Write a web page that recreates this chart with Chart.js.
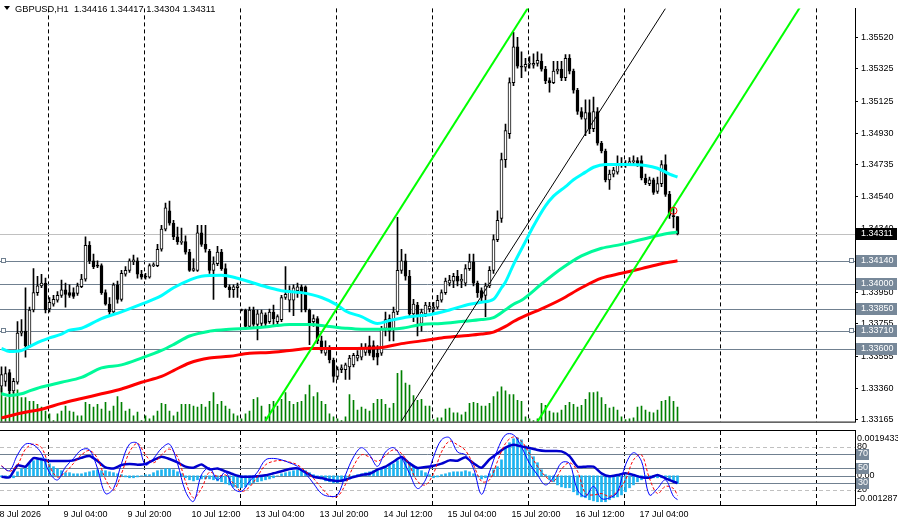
<!DOCTYPE html>
<html>
<head>
<meta charset="utf-8">
<script src="https://cdn.jsdelivr.net/npm/chart.js@4.4.1/dist/chart.umd.min.js"></script>
<style>
  body { margin: 0; background: #fff; width: 898px; height: 523px; overflow: hidden; position: relative; }
  canvas { position: absolute; left: 0; }
  #main { top: 0; }
  #osc { top: 430px; }
</style>
</head>
<body>
<canvas id="main" width="898" height="430"></canvas>
<canvas id="osc" width="898" height="93"></canvas>
<script>
// GBPUSD H1, one candle per hour, 8 Jul 12:00 .. 17 Jul 05:00
var open = [1.33372,1.33402,1.33456,1.33343,1.33396,1.33699,1.33711,1.33622,1.33841,1.33948,
  1.33990,1.34007,1.33847,1.33877,1.33901,1.33931,1.33966,1.33948,1.33948,1.33943,
  1.33984,1.34031,1.34239,1.34144,1.34114,1.34114,1.33948,1.33877,1.33829,1.33996,
  1.33907,1.34061,1.34085,1.34138,1.34144,1.34061,1.34049,1.34043,1.34114,1.34114,
  1.34215,1.34339,1.34452,1.34375,1.34292,1.34257,1.34262,1.34197,1.34085,1.34085,
  1.34316,1.34245,1.34203,1.34085,1.34126,1.34197,1.34096,1.33984,1.33966,1.33978,
  1.33841,1.33841,1.33740,1.33841,1.33752,1.33758,1.33812,1.33770,1.33829,1.33770,
  1.33782,1.33918,1.33901,1.33901,1.33960,1.33984,1.33984,1.33841,1.33770,1.33788,
  1.33651,1.33575,1.33604,1.33533,1.33432,1.33474,1.33474,1.33491,1.33503,1.33545,
  1.33550,1.33580,1.33622,1.33622,1.33575,1.33575,1.33728,1.33788,1.33723,1.33829,
  1.34085,1.34144,1.34049,1.33817,1.33871,1.33758,1.33817,1.33847,1.33847,1.33859,
  1.33901,1.33948,1.34007,1.34019,1.34049,1.34019,1.34007,1.34096,1.34138,1.34007,
  1.33960,1.33931,1.33990,1.34085,1.34274,1.34405,1.34767,1.34927,1.35241,1.35461,
  1.35342,1.35336,1.35354,1.35348,1.35360,1.35372,1.35324,1.35253,1.35241,1.35312,
  1.35324,1.35271,1.35390,1.35312,1.35194,1.35063,1.35016,1.35057,1.34957,1.35063,
  1.34868,1.34820,1.34642,1.34678,1.34690,1.34737,1.34737,1.34737,1.34755,1.34761,
  1.34761,1.34654,1.34619,1.34642,1.34571,1.34619,1.34737,1.34553,1.34423,1.34416];
var high = [1.33491,1.33491,1.33474,1.33420,1.33770,1.33782,1.33978,1.33859,1.34096,1.34049,
  1.34061,1.34037,1.33918,1.33931,1.33954,1.34025,1.34007,1.33996,1.33978,1.34007,
  1.34061,1.34292,1.34262,1.34185,1.34144,1.34126,1.33966,1.33918,1.34007,1.34019,
  1.34085,1.34108,1.34156,1.34179,1.34162,1.34085,1.34067,1.34126,1.34132,1.34245,
  1.34363,1.34500,1.34512,1.34393,1.34351,1.34345,1.34298,1.34215,1.34156,1.34363,
  1.34363,1.34363,1.34215,1.34168,1.34233,1.34215,1.34126,1.33996,1.33996,1.34007,
  1.33847,1.33847,1.33859,1.33859,1.33841,1.33841,1.33823,1.33847,1.33871,1.33812,
  1.33931,1.34108,1.33990,1.33996,1.34007,1.33996,1.33990,1.33847,1.33812,1.33800,
  1.33681,1.33651,1.33622,1.33545,1.33491,1.33503,1.33515,1.33562,1.33575,1.33592,
  1.33634,1.33634,1.33681,1.33651,1.33622,1.33740,1.33829,1.33812,1.33859,1.34411,
  1.34215,1.34185,1.34085,1.33907,1.33889,1.33847,1.33889,1.33889,1.33889,1.33931,
  1.33966,1.34037,1.34055,1.34067,1.34085,1.34061,1.34120,1.34185,1.34185,1.34019,
  1.33978,1.34007,1.34108,1.34304,1.34452,1.34808,1.34986,1.35271,1.35550,1.35520,
  1.35431,1.35390,1.35401,1.35419,1.35431,1.35419,1.35342,1.35271,1.35372,1.35372,
  1.35372,1.35413,1.35413,1.35324,1.35206,1.35087,1.35135,1.35135,1.35152,1.35087,
  1.34880,1.34832,1.34702,1.34719,1.34791,1.34779,1.34761,1.34779,1.34791,1.34779,
  1.34791,1.34678,1.34660,1.34654,1.34660,1.34761,1.34796,1.34571,1.34470,1.34417];
var low = [1.33337,1.33372,1.33325,1.33331,1.33384,1.33681,1.33550,1.33610,1.33829,1.33931,
  1.33978,1.33823,1.33829,1.33865,1.33889,1.33918,1.33859,1.33918,1.33913,1.33931,
  1.33978,1.34019,1.34126,1.34096,1.34102,1.33937,1.33871,1.33812,1.33823,1.33883,
  1.33895,1.34049,1.34073,1.34120,1.34037,1.34031,1.34031,1.34037,1.34108,1.34108,
  1.34203,1.34328,1.34363,1.34274,1.34245,1.34245,1.34185,1.34079,1.34079,1.34079,
  1.34233,1.34197,1.34067,1.33907,1.34114,1.34085,1.33978,1.33918,1.33918,1.33918,
  1.33835,1.33723,1.33728,1.33740,1.33657,1.33740,1.33740,1.33758,1.33740,1.33740,
  1.33770,1.33907,1.33829,1.33806,1.33918,1.33829,1.33829,1.33628,1.33740,1.33634,
  1.33575,1.33562,1.33515,1.33396,1.33414,1.33456,1.33414,1.33414,1.33491,1.33527,
  1.33533,1.33562,1.33562,1.33533,1.33503,1.33562,1.33681,1.33651,1.33651,1.33812,
  1.34067,1.34025,1.33800,1.33770,1.33681,1.33711,1.33800,1.33829,1.33829,1.33847,
  1.33889,1.33937,1.33990,1.33978,1.33990,1.33978,1.33990,1.34085,1.33990,1.33918,
  1.33889,1.33800,1.33978,1.34067,1.34262,1.34381,1.34719,1.34897,1.35223,1.35330,
  1.35271,1.35312,1.35330,1.35330,1.35342,1.35312,1.35235,1.35182,1.35235,1.35295,
  1.35253,1.35253,1.35295,1.35176,1.35045,1.35016,1.34915,1.34927,1.34939,1.34856,
  1.34808,1.34630,1.34583,1.34660,1.34678,1.34719,1.34719,1.34731,1.34737,1.34725,
  1.34642,1.34613,1.34607,1.34553,1.34559,1.34601,1.34541,1.34405,1.34346,1.34304];
var close = [1.33444,1.33450,1.33343,1.33402,1.33699,1.33711,1.33622,1.33841,1.33948,1.33990,
  1.34007,1.33841,1.33889,1.33907,1.33931,1.33966,1.33937,1.33931,1.33925,1.33990,
  1.34031,1.34239,1.34144,1.34108,1.34111,1.33948,1.33877,1.33829,1.33996,1.33907,
  1.34067,1.34085,1.34144,1.34150,1.34061,1.34043,1.34043,1.34114,1.34120,1.34215,
  1.34339,1.34470,1.34375,1.34292,1.34262,1.34262,1.34197,1.34085,1.34096,1.34316,
  1.34245,1.34215,1.34085,1.34126,1.34197,1.34096,1.33984,1.33966,1.33984,1.33990,
  1.33838,1.33740,1.33841,1.33752,1.33817,1.33823,1.33758,1.33829,1.33788,1.33800,
  1.33918,1.33937,1.33960,1.33978,1.33984,1.33948,1.33841,1.33758,1.33788,1.33651,
  1.33592,1.33604,1.33533,1.33432,1.33474,1.33485,1.33503,1.33545,1.33562,1.33562,
  1.33604,1.33604,1.33575,1.33550,1.33550,1.33723,1.33782,1.33711,1.33829,1.34085,
  1.34144,1.34049,1.33817,1.33877,1.33800,1.33829,1.33871,1.33865,1.33859,1.33901,
  1.33948,1.34019,1.34025,1.34049,1.34019,1.34031,1.34096,1.34138,1.34007,1.33948,
  1.33918,1.33990,1.34085,1.34274,1.34393,1.34767,1.34945,1.35241,1.35461,1.35342,
  1.35336,1.35354,1.35357,1.35360,1.35378,1.35324,1.35253,1.35241,1.35312,1.35324,
  1.35271,1.35390,1.35312,1.35194,1.35063,1.35028,1.35057,1.34957,1.35063,1.34868,
  1.34820,1.34642,1.34678,1.34702,1.34737,1.34734,1.34740,1.34755,1.34761,1.34743,
  1.34654,1.34625,1.34642,1.34565,1.34619,1.34737,1.34553,1.34423,1.34416,1.34311];
var volume = [1400,1000,1240,1200,1320,1000,1000,840,840,720,
  600,440,320,40,320,440,640,440,400,240,
  240,800,720,600,720,520,800,440,640,1040,
  800,440,520,240,400,40,240,120,240,440,
  760,720,440,240,400,720,720,720,640,600,
  720,600,840,1200,720,840,640,520,320,240,
  120,320,440,920,1000,640,200,720,840,640,
  920,1200,840,720,800,840,1120,1520,1040,1200,
  840,720,320,200,120,40,200,1120,880,480,
  600,520,440,760,920,920,720,560,760,2000,
  2120,1600,1520,1080,880,920,640,640,80,160,
  160,520,560,360,360,280,400,760,800,760,
  640,640,760,1040,1240,1440,1280,1120,1120,880,
  840,200,120,40,120,760,680,440,360,360,
  480,680,800,720,600,680,920,1200,1200,1240,
  1000,720,560,600,480,200,80,120,160,600,
  640,480,400,360,480,840,880,1040,840,600];

// moving averages read at sample bars
var maFastBars = [0,2,5,7,10,12,15,17,20,25,30,35,40,43,47,50,55,59,63,67,70,75,80,84,86,90,94,97,102,107,112,117,120,123,125,126,128,131,133,136,138,141,143,146,148,151,156,161,164,167,169];
var maFast = [1.33604,1.33586,1.33592,1.33616,1.33651,1.33669,1.33693,1.33717,1.33729,1.33788,1.33830,1.33877,1.33930,1.33978,1.34025,1.34049,1.34055,1.34037,1.34007,1.33978,1.33960,1.33948,1.33918,1.33871,1.33835,1.33800,1.33758,1.33776,1.33800,1.33812,1.33841,1.33877,1.33889,1.33907,1.33978,1.34014,1.34121,1.34263,1.34358,1.34482,1.34542,1.34601,1.34643,1.34690,1.34720,1.34737,1.34737,1.34731,1.34714,1.34678,1.34660];
var maMidBars = [0,2,5,7,10,15,20,25,30,35,40,43,47,52,57,62,67,72,77,82,86,90,95,100,105,110,115,120,123,126,128,130,135,140,145,150,155,160,165,169];
var maMid = [1.33325,1.33314,1.33325,1.33343,1.33367,1.33396,1.33426,1.33485,1.33503,1.33545,1.33592,1.33628,1.33681,1.33711,1.33723,1.33729,1.33740,1.33752,1.33752,1.33740,1.33729,1.33723,1.33723,1.33729,1.33752,1.33758,1.33770,1.33782,1.33794,1.33842,1.33877,1.33901,1.34001,1.34096,1.34174,1.34221,1.34245,1.34275,1.34304,1.34322];
var maSlowBars = [0,5,10,15,20,25,30,35,40,43,47,52,57,62,67,72,77,82,86,95,100,105,110,115,120,123,126,128,131,135,140,145,150,155,160,165,169];
var maSlow = [1.33177,1.33207,1.33230,1.33266,1.33296,1.33325,1.33355,1.33396,1.33432,1.33468,1.33515,1.33545,1.33556,1.33575,1.33580,1.33592,1.33604,1.33604,1.33604,1.33610,1.33634,1.33651,1.33669,1.33681,1.33693,1.33705,1.33740,1.33770,1.33806,1.33848,1.33907,1.33978,1.34037,1.34067,1.34096,1.34126,1.34144];

// drawn objects: channel (bar, price anchors) and horizontal levels
var channelUpper = [[66, 1.33160], [132, 1.35716]];
var channelMiddle = [[99.75, 1.33148], [166, 1.35698]];
var channelLower = [[134, 1.33154], [199.75, 1.35710]];
var levels = [1.34140, 1.34000, 1.33850, 1.33710, 1.33600];
var markedLevels = [1.34140, 1.33710];
var alertPoint = [168, 1.34452];

var priceTicks = [1.33165,1.33360,1.33555,1.33755,1.33950,1.34140,1.34340,1.34540,1.34735,1.34930,1.35125,1.35325,1.35520];
var timeBars = [0,16,32,48,64,80,96,112,128,144,160];
var timeLabels = ['8 Jul 2026','9 Jul 04:00','9 Jul 20:00','10 Jul 12:00','13 Jul 04:00','13 Jul 20:00','14 Jul 12:00','15 Jul 04:00','15 Jul 20:00','16 Jul 12:00','17 Jul 04:00'];
var gridBars = [11.6,35.6,59.6,83.6,107.6,131.6,155.6,179.6,203.6];

// OsMA(12,26,9) per bar
var osma = [-0.00005,-0.00009,-0.00009,-0.00009,0.00018,0.00032,0.00041,0.00054,0.00068,0.00077,
  0.00081,0.00077,0.00054,0.00041,0.00032,0.00023,0.00014,0.00014,0.00009,0.00009,
  0.00009,0.00014,0.00018,0.00023,0.00027,0.00023,0.00023,0.00018,0.00014,0.00009,
  0.00005,-0.00005,-0.00009,-0.00009,-0.00005,0,0.00005,0.00005,0.00014,0.00023,
  0.00027,0.00032,0.00032,0.00027,0.00018,0.00009,-0.00009,-0.00018,-0.00023,-0.00018,
  -0.00014,-0.00014,-0.00014,-0.00018,-0.00023,-0.00027,-0.00036,-0.00041,-0.0005,-0.00054,
  -0.00054,-0.0005,-0.00041,-0.00032,-0.00027,-0.00023,-0.00018,-0.00014,-0.00009,0,
  0.00009,0.00014,0.00018,0.00023,0.00027,0.00027,0.00023,0.00014,0.00005,-0.00005,
  -0.00014,-0.00023,-0.00027,-0.00032,-0.00032,-0.00027,-0.00023,-0.00014,-0.00005,0.00005,
  0.00009,0.00014,0.00018,0.00023,0.00023,0.00032,0.00041,0.0005,0.00054,0.00068,
  0.00077,0.00068,0.00059,0.00045,0.00032,0.00023,0.00014,0.00005,-0.00009,-0.00005,
  0.00005,0.00009,0.00014,0.00018,0.00018,0.00018,0.00023,0.00018,0.00009,-0.00005,
  -0.00014,-0.00009,0.00009,0.00027,0.00041,0.00072,0.00126,0.00149,0.00167,0.00171,
  0.00162,0.00135,0.00117,0.00086,0.00059,0.00027,0.00005,-0.00018,-0.00027,-0.00041,
  -0.0005,-0.00054,-0.00054,-0.00072,-0.00086,-0.00095,-0.00099,-0.00108,-0.00113,-0.00117,
  -0.00117,-0.00117,-0.00108,-0.00099,-0.00095,-0.00086,-0.00072,-0.00054,-0.00041,-0.00027,
  -0.00018,-0.00009,-0.00009,-0.00009,-0.00009,-0.00009,-0.00014,-0.00023,-0.00027,-0.00035];
var osmaTop = 0.0019433, osmaBottom = -0.001287;

// Stoch(5,3,3) and RSI(14), read every second bar
var oscBars = [0,2,4,6,8,10,12,14,16,18,20,22,24,26,28,30,32,34,36,38,40,42,44,46,48,50,52,54,56,58,
  60,62,64,66,68,70,72,74,76,78,80,82,84,86,88,90,92,94,96,98,100,102,104,106,108,110,112,114,116,118,
  120,122,124,126,128,130,132,134,136,138,140,142,144,146,148,150,152,154,156,158,160,162,164,166,168,169];
var stochMain = [53,47,69,84,83,71,44,34,52,64,76,76,50,15,22,57,84,85,55,64,78,84,57,18,4,41,51,34,45,22,
  18,32,45,62,64,62,58,53,43,29,15,11,13,41,66,79,69,53,73,79,65,43,22,34,66,90,93,73,69,50,
  14,45,76,97,97,80,57,41,27,38,58,57,20,11,25,8,9,17,55,72,60,13,22,34,11,6.51];
var stochSignal = [54,46,55,77,84,79,53,38,45,57,69,75,64,35,20,43,73,85,69,58,69,77,66,32,9,22,45,39,41,29,
  18,24,39,55,60,61,59,55,46,36,23,12,11,28,53,69,66,60,68,76,71,54,32,27,43,73,88,83,75,55,
  32,34,60,85,94,88,71,53,39,32,49,58,46,15,13,15,11,18,34,62,69,36,15,25,22,12.15];
var rsi = [38.5,37.6,54.3,52.5,64.5,62.7,60.4,60.4,60.4,61.3,65,67.3,60.4,51.5,50.1,54.8,56.2,55.3,56.2,61.8,
  66.4,63.2,58.5,52.5,51,55.7,48.7,50.1,46,41.8,38.5,38.5,39,40.4,43.2,46,49.2,50.1,44.6,38.5,
  36.6,33.9,32.5,34.3,38,40.8,42.7,48.3,52.5,59.4,65.9,57.1,50.6,52,53.9,56.7,61.3,60.8,65.5,57.1,
  51,62.7,71.1,79,83.2,80.8,78.5,75.7,74.3,74.3,73.9,67.3,52.5,52.5,52.5,43.2,39,40.8,43.2,40.8,
  37.6,37.1,40.8,36.2,31.5,29.69];

var FONT = '"Liberation Sans", Arial, sans-serif';
var last = close.length - 1;

function pts(bars, vals) { return bars.map(function (b, k) { return {x: b, y: vals[k]}; }); }
function seg(p) { return p.map(function (q) { return {x: q[0], y: q[1]}; }); }

var wicks = close.map(function (c, i) { return {x: i, y: [low[i], high[i]]}; });
var bodies = close.map(function (c, i) { return {x: i, y: [open[i], c]}; });
var bodyFill = close.map(function (c, i) { return c > open[i] ? '#ffffff' : '#000000'; });
var vols = volume.map(function (v, i) { return {x: i, y: v}; });

var xRange = {type: 'linear', min: -0.375, max: 213.375, offset: false, bounds: 'data'};

var vGrid = {
  id: 'vGrid',
  beforeDatasetsDraw: function (chart) {
    var ctx = chart.ctx, a = chart.chartArea, x = chart.scales.x;
    ctx.save();
    ctx.strokeStyle = '#000'; ctx.lineWidth = 1; ctx.setLineDash([4, 3]);
    gridBars.forEach(function (b) {
      var px = Math.round(x.getPixelForValue(b)) + 0.5;
      ctx.beginPath(); ctx.moveTo(px, a.top); ctx.lineTo(px, a.bottom); ctx.stroke();
    });
    ctx.restore();
  }
};

var mainDeco = {
  id: 'mainDeco',
  beforeDatasetsDraw: function (chart) {
    var ctx = chart.ctx, a = chart.chartArea, y = chart.scales.y;
    ctx.save();
    ctx.lineWidth = 1;
    ctx.strokeStyle = '#c0c0c0';
    var py = Math.round(y.getPixelForValue(close[last])) + 0.5;
    ctx.beginPath(); ctx.moveTo(a.left, py); ctx.lineTo(a.right, py); ctx.stroke();
    ctx.strokeStyle = '#708090';
    levels.forEach(function (v) {
      var p = Math.round(y.getPixelForValue(v)) + 0.5;
      ctx.beginPath(); ctx.moveTo(a.left, p); ctx.lineTo(a.right, p); ctx.stroke();
    });
    ctx.restore();
  },
  afterDraw: function (chart) {
    var ctx = chart.ctx, a = chart.chartArea, y = chart.scales.y;
    ctx.save();
    ctx.font = '9px ' + FONT;
    ctx.textBaseline = 'middle';
    function box(v, bg) {
      var p = Math.round(y.getPixelForValue(v));
      ctx.fillStyle = bg; ctx.fillRect(856, p - 6, 41, 12);
      ctx.fillStyle = '#fff'; ctx.fillText(v.toFixed(5), 861, p);
    }
    levels.forEach(function (v) { box(v, '#778899'); });
    box(close[last], '#000');
    ctx.strokeStyle = '#708090'; ctx.fillStyle = '#fff';
    markedLevels.forEach(function (v) {
      var p = Math.round(y.getPixelForValue(v));
      [1, 849].forEach(function (sx) {
        ctx.fillRect(sx, p - 2, 4, 4); ctx.strokeRect(sx + 0.5, p - 2.5, 4, 4);
      });
    });
    // bottom border of the price panel
    ctx.fillStyle = '#000';
    ctx.fillRect(0, a.bottom, a.right + 1, 1);
    // header
    ctx.beginPath(); ctx.moveTo(4, 6); ctx.lineTo(10, 6); ctx.lineTo(7, 10); ctx.closePath(); ctx.fill();
    ctx.font = '9.3px ' + FONT; ctx.textBaseline = 'alphabetic';
    var ohlc = [open[last], high[last], low[last], close[last]].map(function (v) { return v.toFixed(5); }).join(' ');
    ctx.fillText('GBPUSD,H1  ' + ohlc, 15, 12);
    ctx.restore();
  }
};

new Chart(document.getElementById('main'), {
  type: 'bar',
  data: {
    datasets: [
      {type: 'line', data: seg(channelUpper), borderColor: '#00ff00', borderWidth: 2, pointRadius: 0, order: 1},
      {type: 'line', data: seg(channelLower), borderColor: '#00ff00', borderWidth: 2, pointRadius: 0, order: 1},
      {type: 'line', data: seg(channelMiddle), borderColor: '#000', borderWidth: 1, pointRadius: 0, order: 1},
      {type: 'scatter', data: [{x: alertPoint[0], y: alertPoint[1]}], pointRadius: 3.5, borderWidth: 1,
        pointBorderColor: '#ff0000', pointBackgroundColor: 'rgba(0,0,0,0)', order: 0},
      {type: 'line', data: pts(maFastBars, maFast), borderColor: '#00ffff', borderWidth: 3, pointRadius: 0, cubicInterpolationMode: 'monotone', order: 2},
      {type: 'line', data: pts(maMidBars, maMid), borderColor: '#00fa9a', borderWidth: 3, pointRadius: 0, cubicInterpolationMode: 'monotone', order: 2},
      {type: 'line', data: pts(maSlowBars, maSlow), borderColor: '#ff0000', borderWidth: 3, pointRadius: 0, cubicInterpolationMode: 'monotone', order: 2},
      {type: 'bar', data: bodies, backgroundColor: bodyFill, borderColor: '#000', borderWidth: 1, borderSkipped: false,
        barThickness: 3, minBarLength: 1, grouped: false, order: 3},
      {type: 'bar', data: wicks, backgroundColor: '#000', borderWidth: 0, barThickness: 1, grouped: false, order: 4},
      {type: 'bar', data: vols, yAxisID: 'vol', backgroundColor: '#008000', borderWidth: 0, barThickness: 1, grouped: false, order: 9}
    ]
  },
  options: {
    responsive: false,
    animation: false,
    devicePixelRatio: 1,
    layout: {autoPadding: false, padding: {left: 0, top: 0, right: 0, bottom: 1}},
    plugins: {legend: {display: false}, tooltip: {enabled: false}},
    scales: {
      x: Object.assign({display: false}, xRange),
      y: {
        position: 'right', min: 1.33154, max: 1.35698, beginAtZero: false, bounds: 'data',
        afterFit: function (s) { s.width = 43; },
        afterBuildTicks: function (s) { s.ticks = priceTicks.map(function (v) { return {value: v}; }); },
        ticks: {autoSkip: false, padding: 3, color: '#000', font: {family: FONT, size: 9},
          callback: function (v) { return v.toFixed(5); }},
        grid: {display: true, drawOnChartArea: false, drawTicks: true, tickLength: 3, color: '#000'},
        border: {display: true, color: '#000', width: 1}
      },
      vol: {display: false, min: 0, max: 17160}
    }
  },
  plugins: [vGrid, mainDeco]
});

var oscDeco = {
  id: 'oscDeco',
  beforeDatasetsDraw: function (chart) {
    var ctx = chart.ctx, a = chart.chartArea, y = chart.scales.y, o = chart.scales.osma;
    ctx.save();
    ctx.lineWidth = 1;
    function hline(p, color, dash) {
      p = Math.round(p) + 0.5;
      ctx.strokeStyle = color; ctx.setLineDash(dash);
      ctx.beginPath(); ctx.moveTo(a.left, p); ctx.lineTo(a.right, p); ctx.stroke();
    }
    hline(y.getPixelForValue(80), '#c0c0c0', [4, 3]);
    hline(y.getPixelForValue(20), '#c0c0c0', [4, 3]);
    [70, 50, 30].forEach(function (v) { hline(y.getPixelForValue(v), '#708090', []); });
    hline(o.getPixelForValue(0), '#708090', []);
    ctx.restore();
  },
  afterDraw: function (chart) {
    var ctx = chart.ctx, a = chart.chartArea, y = chart.scales.y, o = chart.scales.osma;
    ctx.save();
    ctx.fillStyle = '#000';
    ctx.fillRect(0, 0, a.right + 1, 1);
    ctx.font = '9px ' + FONT; ctx.textBaseline = 'middle';
    ctx.fillText(String(osmaTop), 857, o.getPixelForValue(osmaTop) + 6);
    ctx.fillText('80', 857, y.getPixelForValue(80));
    ctx.fillText('0.00', 857, o.getPixelForValue(0));
    ctx.fillText('20', 857, y.getPixelForValue(20));
    ctx.fillText(String(osmaBottom), 857, o.getPixelForValue(osmaBottom) - 6);
    [70, 50, 30].forEach(function (v) {
      var p = Math.round(y.getPixelForValue(v));
      ctx.fillStyle = '#778899'; ctx.fillRect(856, p - 5, 13, 11);
      ctx.fillStyle = '#fff'; ctx.fillText(String(v), 858, p);
    });
    ctx.restore();
  }
};

new Chart(document.getElementById('osc'), {
  type: 'bar',
  data: {
    datasets: [
      {type: 'line', data: pts(oscBars, stochMain), borderColor: '#0000ff', borderWidth: 1, pointRadius: 0, tension: 0.35, order: 1},
      {type: 'line', data: pts(oscBars, stochSignal), borderColor: '#ff0000', borderWidth: 1, borderDash: [3, 2], pointRadius: 0, tension: 0.35, order: 1},
      {type: 'line', data: pts(oscBars, rsi), borderColor: '#0000cd', borderWidth: 2.5, pointRadius: 0, tension: 0.2, order: 2},
      {type: 'bar', data: osma.map(function (v, i) { return {x: i, y: v}; }), yAxisID: 'osma',
        backgroundColor: '#1eb4f0', borderWidth: 0, barThickness: 2, grouped: false, order: 5}
    ]
  },
  options: {
    responsive: false,
    animation: false,
    devicePixelRatio: 1,
    layout: {autoPadding: false, padding: {left: 0, top: 1, right: 0, bottom: 0}},
    plugins: {legend: {display: false}, tooltip: {enabled: false}},
    scales: {
      x: Object.assign({
        position: 'bottom',
        afterFit: function (s) { s.height = 18; s.paddingLeft = 0; s.paddingRight = 0; },
        afterBuildTicks: function (s) { s.ticks = timeBars.map(function (v) { return {value: v}; }); },
        ticks: {autoSkip: false, maxRotation: 0, align: 'start', labelOffset: -2, padding: 4, color: '#000',
          font: {family: FONT, size: 9},
          callback: function (v, i) { return timeLabels[i]; }},
        grid: {display: true, drawOnChartArea: false, drawTicks: false},
        border: {display: true, color: '#000', width: 1}
      }, xRange),
      y: {
        position: 'right', min: -1, max: 102.3, bounds: 'data',
        afterFit: function (s) { s.width = 43; },
        ticks: {display: false},
        grid: {display: true, drawOnChartArea: false, drawTicks: false},
        border: {display: true, color: '#000', width: 1}
      },
      osma: {display: false, min: -0.001317, max: 0.00202, beginAtZero: false}
    }
  },
  plugins: [vGrid, oscDeco]
});
</script>
</body>
</html>
